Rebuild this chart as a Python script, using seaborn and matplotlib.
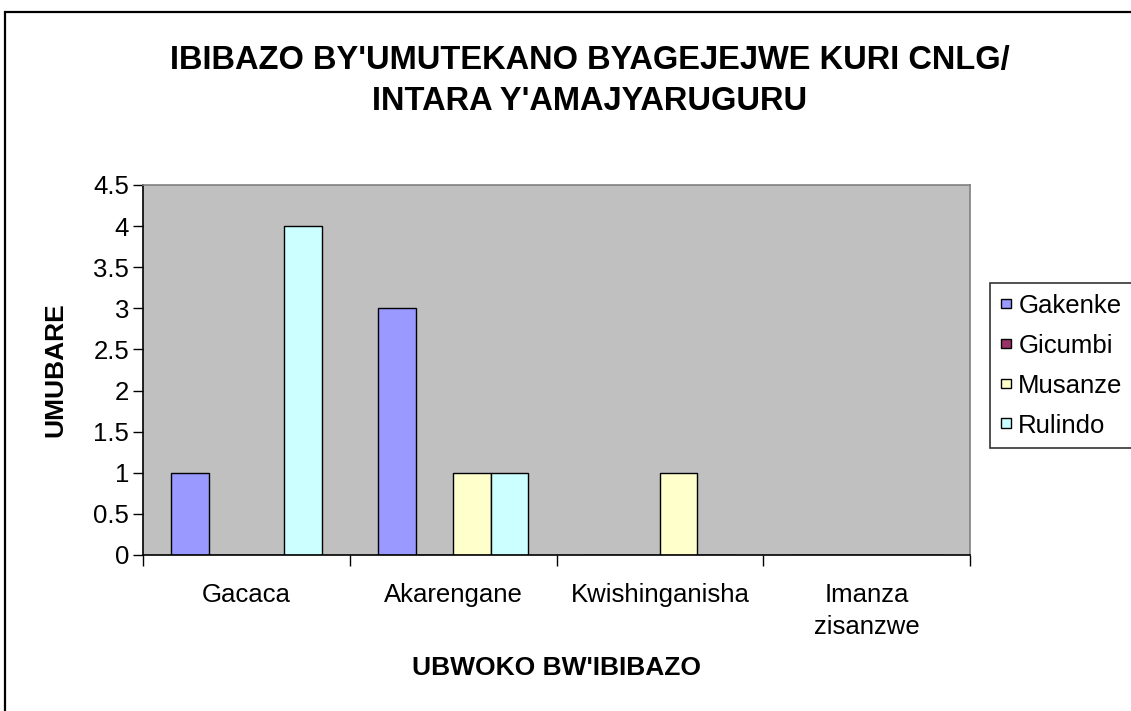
import matplotlib
matplotlib.use("Agg")
import matplotlib.pyplot as plt
from matplotlib.patches import Rectangle
import pandas as pd
import seaborn as sns

# data
ibibazo = ["Gacaca", "Akarengane", "Kwishinganisha", "Imanza\nzisanzwe"]
uturere = ["Gakenke", "Gicumbi", "Musanze", "Rulindo"]
gakenke = [1, 3, 0, 0]
gicumbi = [0, 0, 0, 0]
musanze = [0, 1, 1, 0]
rulindo = [4, 1, 0, 0]
amabara = ["#9999FF", "#993366", "#FFFFCC", "#CCFFFF"]
y_ticks = [0, 0.5, 1, 1.5, 2, 2.5, 3, 3.5, 4, 4.5]
y_labels = ["0", "0.5", "1", "1.5", "2", "2.5", "3", "3.5", "4", "4.5"]

rows = []
for akarere, vals in zip(uturere, [gakenke, gicumbi, musanze, rulindo]):
    for ikibazo, v in zip(ibibazo, vals):
        rows.append({"ikibazo": ikibazo, "akarere": akarere, "umubare": v})
df = pd.DataFrame(rows)

sns.set_theme(style="white")
plt.rcParams["font.family"] = ["Liberation Sans", "DejaVu Sans"]
plt.rcParams["text.color"] = "black"
plt.rcParams["xtick.color"] = "black"
plt.rcParams["ytick.color"] = "black"

fig = plt.figure(figsize=(11.31, 7.11), dpi=100)
ax = fig.add_axes([143 / 1131, 1 - 555 / 711, 827 / 1131, 370 / 711])
ax.set_facecolor("#C0C0C0")

sns.barplot(data=df, x="ikibazo", y="umubare", hue="akarere", order=ibibazo,
            hue_order=uturere, palette=amabara, width=0.727, edgecolor="black",
            linewidth=1, saturation=1, ax=ax, legend=True)

ax.set_xlim(-0.5, len(ibibazo) - 0.5)
ax.set_ylim(0, 4.5)
ax.set_yticks(y_ticks)
ax.set_yticklabels(y_labels, fontsize=18.5)
ax.tick_params(axis="y", direction="out", length=7, width=1, color="black", left=True, pad=3)

# ticks on category boundaries, labels at the centres
ax.set_xticks([i - 0.5 for i in range(len(ibibazo) + 1)])
ax.set_xticklabels([])
ax.set_xticks(range(len(ibibazo)), minor=True)
ax.set_xticklabels(ibibazo, minor=True, fontsize=18.5, linespacing=1.45)
ax.tick_params(axis="x", which="major", direction="out", length=8, width=1, color="black", bottom=True)
ax.tick_params(axis="x", which="minor", length=0, pad=20)

for s in ["left", "bottom"]:
    ax.spines[s].set_color("black")
    ax.spines[s].set_linewidth(1.2)
for s in ["top", "right"]:
    ax.spines[s].set_color("#808080")
    ax.spines[s].set_linewidth(1.2)
ax.grid(False)
ax.set_xlabel("")
ax.set_ylabel("")

fig.text(557 / 1131, 1 - 668 / 711, "UBWOKO BW'IBIBAZO", ha="center", va="center",
         fontsize=19, fontweight="bold")
fig.text(55 / 1131, 1 - 370 / 711, "UMUBARE", ha="center", va="center",
         rotation=90, fontsize=19, fontweight="bold")

fig.text(590 / 1131, 1 - 60 / 711, "IBIBAZO BY'UMUTEKANO BYAGEJEJWE KURI CNLG/",
         ha="center", va="center", fontsize=23.5, fontweight="bold")
fig.text(590 / 1131, 1 - 101 / 711, "INTARA Y'AMAJYARUGURU",
         ha="center", va="center", fontsize=23.5, fontweight="bold")

handles, labels = ax.get_legend_handles_labels()
ax.legend_.remove()
leg = fig.legend(handles, labels, loc="upper left", bbox_to_anchor=(990 / 1131, 1 - 283 / 711),
                 bbox_transform=fig.transFigure, fontsize=18.5, frameon=True,
                 fancybox=False, edgecolor="black", handlelength=0.38,
                 handleheight=0.2, handletextpad=0.3, labelspacing=0.62,
                 borderpad=0.42, borderaxespad=0)
leg.get_frame().set_linewidth(1.2)

# outer chart border
fig.patches.append(Rectangle((0.0044, -0.02), 1.1, 0.983 + 0.02, transform=fig.transFigure,
                             fill=False, edgecolor="black", linewidth=1.6))

fig.savefig("out.png", dpi=100)
